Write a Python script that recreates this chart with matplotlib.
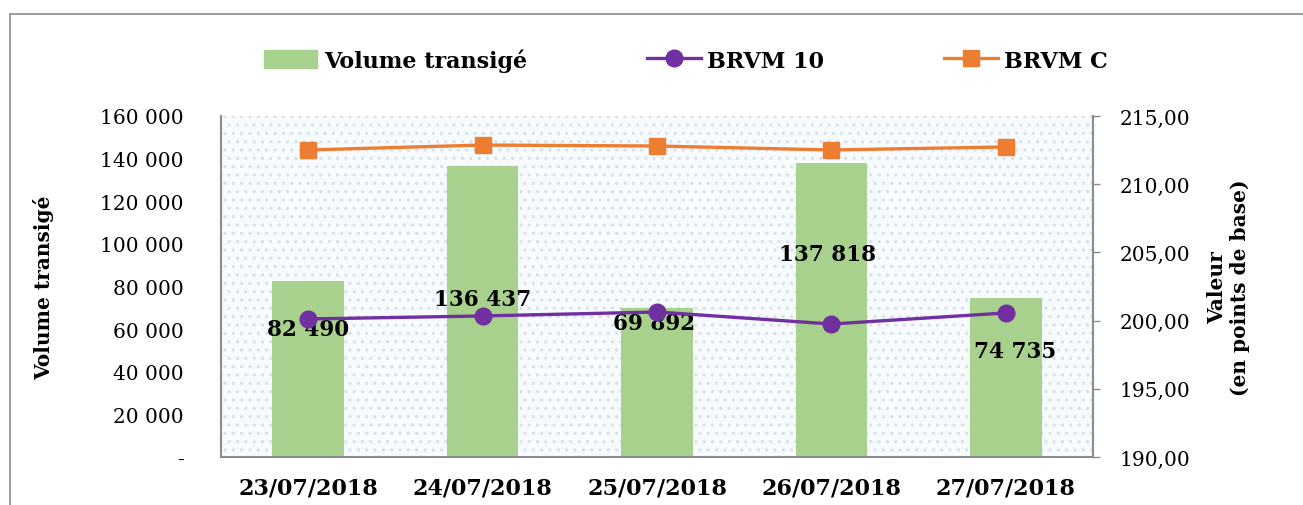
import matplotlib
matplotlib.use("Agg")
import matplotlib.pyplot as plt
from matplotlib.patches import Rectangle
from matplotlib.lines import Line2D
from matplotlib.ticker import FuncFormatter

# data
dates = ["23/07/2018", "24/07/2018", "25/07/2018", "26/07/2018", "27/07/2018"]
volume = [82490, 136437, 69892, 137818, 74735]
brvm10 = [200.12, 200.34, 200.63, 199.75, 200.56]
brvmc = [212.51, 212.87, 212.80, 212.51, 212.73]

# where Excel put the data labels (pixel offsets from the bar top)
label_dx = [0, 0, -3, -4, 9]
label_dy = [-48, -133, -15, -91, -53]

GREEN = "#A9D18E"
PURPLE = "#7030A0"
ORANGE = "#ED7D31"
GREY = "#8C8C8C"

plt.rcParams["font.family"] = ["DejaVu Serif"]

fig = plt.figure(figsize=(13.03, 5.06), dpi=100)
ax = fig.add_axes([221 / 1303, 1 - 458 / 506, (1093 - 221) / 1303, (458 - 117) / 506])
ax2 = ax.twinx()

# dotted plot-area fill
plt.rcParams["hatch.linewidth"] = 1.1
ax.patch.set_facecolor("#F8FBFD")
ax.add_patch(Rectangle((0, 0), 1, 1, transform=ax.transAxes, facecolor="none",
                       hatch="..", edgecolor="#D3E0EE", lw=0, zorder=0))

x = list(range(len(dates)))
ax.bar(x, volume, width=0.41, color=GREEN, zorder=2)
ax.set_xlim(-0.5, len(dates) - 0.5)
ax.set_ylim(0, 160000)
ax.set_yticks(range(0, 160001, 20000))
ax.yaxis.set_major_formatter(FuncFormatter(
    lambda v, p: "-" if v == 0 else f"{int(v):,}".replace(",", " ")))
ax.tick_params(axis="y", length=0, pad=27, labelsize=14.5)
ax.set_xticks(x)
ax.set_xticklabels(dates, fontweight="bold", fontsize=16)
ax.tick_params(axis="x", length=0, pad=14)
ax.set_ylabel("Volume transigé", fontweight="bold", fontsize=14.5, labelpad=33)

for i, v in enumerate(volume):
    ax.annotate(f"{v:,}".replace(",", " "), (x[i], v),
                xytext=(label_dx[i] * 0.72, label_dy[i] * 0.72), textcoords="offset points",
                ha="center", va="center", fontweight="bold", fontsize=15.5, zorder=5)

ax2.plot(x, brvm10, color=PURPLE, lw=2.4, marker="o", ms=12, zorder=3)
ax2.plot(x, brvmc, color=ORANGE, lw=2.4, marker="s", ms=11, zorder=3)
ax2.set_ylim(190, 215)
ax2.set_yticks(range(190, 216, 5))
ax2.yaxis.set_major_formatter(FuncFormatter(lambda v, p: f"{v:.2f}".replace(".", ",")))
ax2.tick_params(axis="y", length=5, width=1, color=GREY, pad=14, labelsize=14.5)
ax2.set_ylabel("Valeur\n(en points de base)", fontweight="bold", fontsize=14.5,
               labelpad=12)

for a in (ax, ax2):
    for s in a.spines.values():
        s.set_visible(False)
ax.spines["left"].set_visible(True)
ax.spines["bottom"].set_visible(True)
ax2.spines["right"].set_visible(True)
for s in (ax.spines["left"], ax.spines["bottom"], ax2.spines["right"]):
    s.set_color(GREY)
    s.set_linewidth(1.5)

handles = [
    Rectangle((0, 0), 1, 1, color=GREEN),
    Line2D([], [], color=PURPLE, lw=2.4, marker="o", ms=12),
    Line2D([], [], color=ORANGE, lw=2.4, marker="s", ms=11),
]
fig.legend(handles, ["Volume transigé", "BRVM 10", "BRVM C"], ncol=3,
           loc="center", bbox_to_anchor=(686 / 1303, 1 - 61 / 506), frameon=False,
           prop={"weight": "bold", "size": 16}, handlelength=2.4, handleheight=0.9,
           handletextpad=0.3, columnspacing=5.4)

# outer chart frame (only top/left edges visible)
fig.add_artist(Rectangle((10 / 1303, -0.2), 1.2, 1.2 - 15 / 506, transform=fig.transFigure,
                         facecolor="none", edgecolor=GREY, lw=1.2))

fig.savefig("out.png", dpi=100)
